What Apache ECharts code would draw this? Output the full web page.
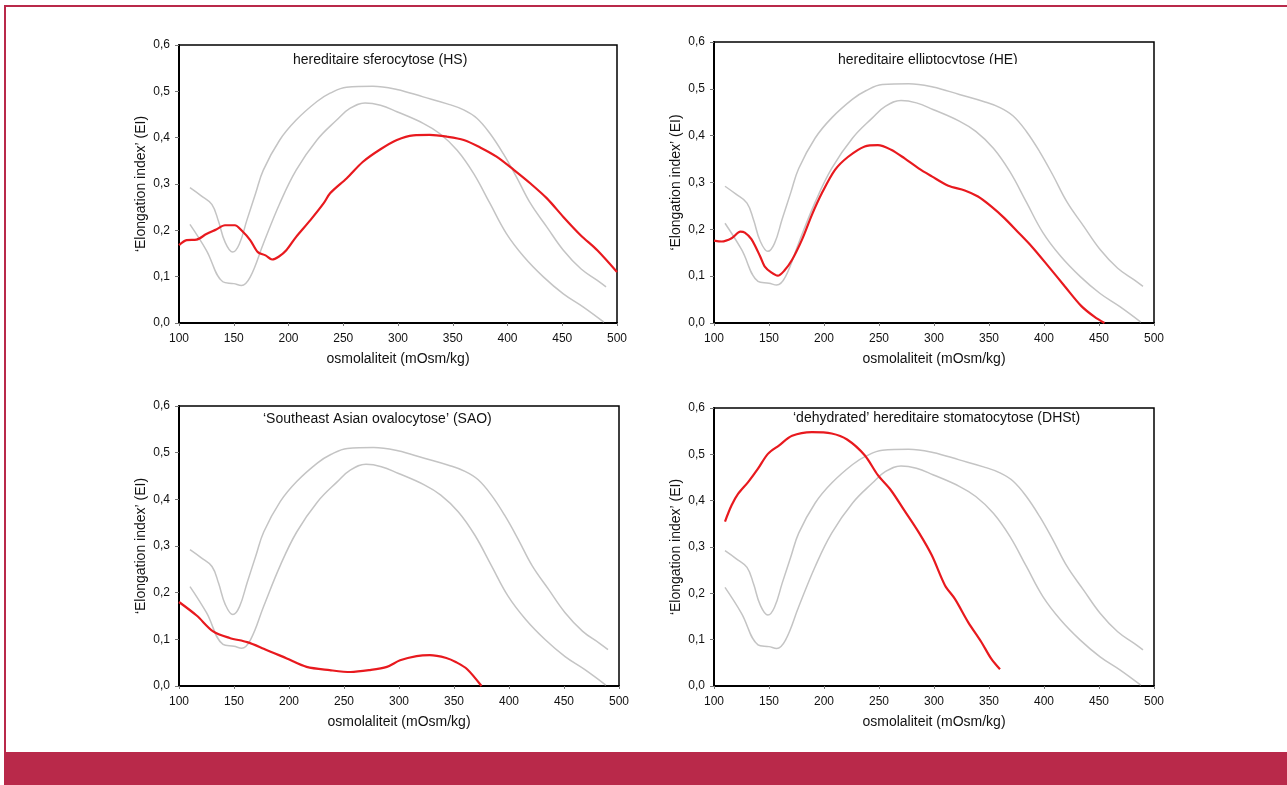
<!DOCTYPE html>
<html>
<head>
<meta charset="utf-8">
<script src="https://cdn.jsdelivr.net/npm/echarts@6/dist/echarts.min.js"></script>
<style>
  html, body { margin: 0; padding: 0; background: #fff; }
  #chart { width: 1287px; height: 785px; }
</style>
</head>
<body>
<div id="chart"></div>
<script>
// reference band (grey), same in every panel: [osmolality, EI]
var greyUpper = [
  [110, 0.292], [120, 0.275], [130, 0.256], [136, 0.22], [142, 0.175], [149, 0.153],
  [155, 0.17], [162, 0.222], [170, 0.28], [177, 0.33], [192, 0.395], [207, 0.438],
  [226, 0.478], [238, 0.496], [253, 0.509], [277, 0.511], [299, 0.504], [323, 0.488],
  [345, 0.473], [360, 0.46], [372, 0.442], [384, 0.409], [396, 0.366], [408, 0.316],
  [421, 0.258], [436, 0.207], [451, 0.157], [467, 0.117], [482, 0.092], [490, 0.078]
];
var greyLower = [
  [110, 0.213], [125, 0.157], [140, 0.089], [150, 0.085], [157, 0.081], [165, 0.099],
  [177, 0.171], [192, 0.258], [207, 0.33], [226, 0.395], [244, 0.438], [256, 0.463],
  [270, 0.475], [284, 0.47], [299, 0.456], [323, 0.431], [338, 0.409], [354, 0.373],
  [369, 0.323], [384, 0.258], [399, 0.193], [415, 0.143], [433, 0.099], [451, 0.063],
  [469, 0.035], [488, 0.002]
];

// patient curves (red)
var hsCurve = [
  [100, 0.168], [107, 0.179], [116, 0.18], [125, 0.192], [134, 0.202], [142, 0.211],
  [151, 0.211], [157, 0.2], [165, 0.179], [172, 0.153], [179, 0.146], [185, 0.137],
  [191, 0.143], [198, 0.157], [207, 0.186], [220, 0.222], [232, 0.258], [238, 0.28],
  [253, 0.312], [268, 0.348], [284, 0.375], [299, 0.395], [314, 0.405], [329, 0.406],
  [345, 0.402], [360, 0.395], [375, 0.379], [390, 0.359], [406, 0.33], [421, 0.301],
  [436, 0.269], [451, 0.229], [467, 0.189], [482, 0.157], [500, 0.11]
];
var heCurve = [
  [100, 0.176], [107, 0.174], [116, 0.181], [124, 0.195], [128, 0.193], [134, 0.179],
  [142, 0.142], [146, 0.121], [152, 0.108], [158, 0.101], [164, 0.112], [171, 0.135],
  [180, 0.178], [189, 0.231], [198, 0.277], [210, 0.327], [222, 0.355], [237, 0.377],
  [249, 0.38], [261, 0.37], [273, 0.352], [286, 0.33], [298, 0.313], [313, 0.293],
  [328, 0.283], [340, 0.27], [352, 0.249], [364, 0.224], [376, 0.195], [389, 0.163],
  [404, 0.121], [419, 0.078], [434, 0.036], [446, 0.013], [455, 0]
];
var saoCurve = [
  [100, 0.18], [116, 0.151], [131, 0.117], [146, 0.103], [162, 0.094], [177, 0.08],
  [198, 0.059], [216, 0.041], [237, 0.034], [256, 0.03], [273, 0.034], [289, 0.041],
  [301, 0.055], [316, 0.064], [328, 0.066], [343, 0.06], [352, 0.051], [362, 0.036],
  [375, 0]
];
var dhstCurve = [
  [110, 0.355], [116, 0.39], [122, 0.415], [131, 0.44], [140, 0.469], [149, 0.501],
  [159, 0.519], [171, 0.54], [189, 0.548], [207, 0.545], [221, 0.532], [237, 0.498],
  [249, 0.455], [261, 0.422], [273, 0.379], [286, 0.332], [298, 0.282], [310, 0.217],
  [319, 0.188], [331, 0.138], [343, 0.095], [352, 0.059], [360, 0.036]
];

var panelTitles = [
  "hereditaire sferocytose (HS)",
  "hereditaire elliptocytose (HE)",
  "\u2018Southeast Asian ovalocytose\u2019 (SAO)",
  "\u2018dehydrated\u2019 hereditaire stomatocytose (DHSt)"
];
var redCurves = [hsCurve, heCurve, saoCurve, dhstCurve];
var yName = "\u2018Elongation index\u2019 (EI)";
var xName = "osmolaliteit (mOsm/kg)";

var FONT = "'Liberation Sans', Arial, sans-serif";
var RED = "#e8191e";
var GREY = "#c4c4c4";
var PINK = "#b9294a";

var grids = [
  { left: 179, top: 45, width: 438, height: 278 },
  { left: 714, top: 42, width: 440, height: 281 },
  { left: 179, top: 406, width: 440, height: 280 },
  { left: 714, top: 408, width: 440, height: 278 }
];
var titlePos = [
  { left: 293, top: 53 },
  { left: 838, top: 53 },
  { left: 263, top: 412 },
  { left: 793, top: 411 }
];

var chart = echarts.init(document.getElementById("chart"));

var option = {
  animation: false,
  backgroundColor: "#fff",
  title: panelTitles.map(function (t, i) {
    return {
      text: t, left: titlePos[i].left, top: titlePos[i].top, padding: 0,
      textStyle: { fontFamily: FONT, fontSize: 14, fontWeight: "normal", color: "#111" }
    };
  }),
  grid: grids.map(function (g) {
    return Object.assign({ show: true, borderColor: "#000", borderWidth: 1.5,
      backgroundColor: "transparent" }, g);
  }),
  xAxis: grids.map(function (g, i) {
    return {
      gridIndex: i, type: "value", min: 100, max: 500, interval: 50,
      name: xName, nameLocation: "middle", nameGap: 29,
      nameTextStyle: { fontFamily: FONT, fontSize: 14, color: "#111" },
      axisLine: { onZero: false, lineStyle: { color: "#000", width: 2 } },
      axisTick: { length: 3, lineStyle: { color: "#777" } },
      axisLabel: { fontFamily: FONT, fontSize: 12, color: "#111", margin: 10 },
      splitLine: { show: false }
    };
  }),
  yAxis: grids.map(function (g, i) {
    return {
      gridIndex: i, type: "value", min: 0, max: 0.6, interval: 0.1,
      name: yName, nameLocation: "middle", nameGap: 31, nameRotate: 90,
      nameTextStyle: { fontFamily: FONT, fontSize: 14, color: "#111" },
      axisLine: { onZero: false, lineStyle: { color: "#000", width: 2 } },
      axisTick: { length: 4, lineStyle: { color: "#777" } },
      axisLabel: {
        fontFamily: FONT, fontSize: 12, color: "#111", margin: 9,
        formatter: function (v) { return v.toFixed(1).replace(".", ","); }
      },
      splitLine: { show: false }
    };
  }),
  series: [],
  graphic: [
    { type: "rect", shape: { x: 4, y: 5, width: 1283, height: 2 }, style: { fill: PINK } },
    { type: "rect", shape: { x: 4, y: 5, width: 2, height: 750 }, style: { fill: PINK } },
    { type: "rect", shape: { x: 4, y: 752, width: 1283, height: 33 }, style: { fill: PINK } },
    // the HE title is cut off at its baseline in the original
    { type: "rect", shape: { x: 830, y: 64, width: 200, height: 6 }, style: { fill: "#fff" }, z: 200 }
  ]
};

redCurves.forEach(function (curve, i) {
  [greyUpper, greyLower].forEach(function (g) {
    option.series.push({
      type: "line", xAxisIndex: i, yAxisIndex: i, data: g, smooth: 0.4,
      showSymbol: false, symbol: "none",
      lineStyle: { color: GREY, width: 1.5 }, z: 2
    });
  });
  option.series.push({
    type: "line", xAxisIndex: i, yAxisIndex: i, data: curve, smooth: 0.3,
    showSymbol: false, symbol: "none",
    lineStyle: { color: RED, width: 2.2 }, z: 3
  });
});

chart.setOption(option);
</script>
</body>
</html>
